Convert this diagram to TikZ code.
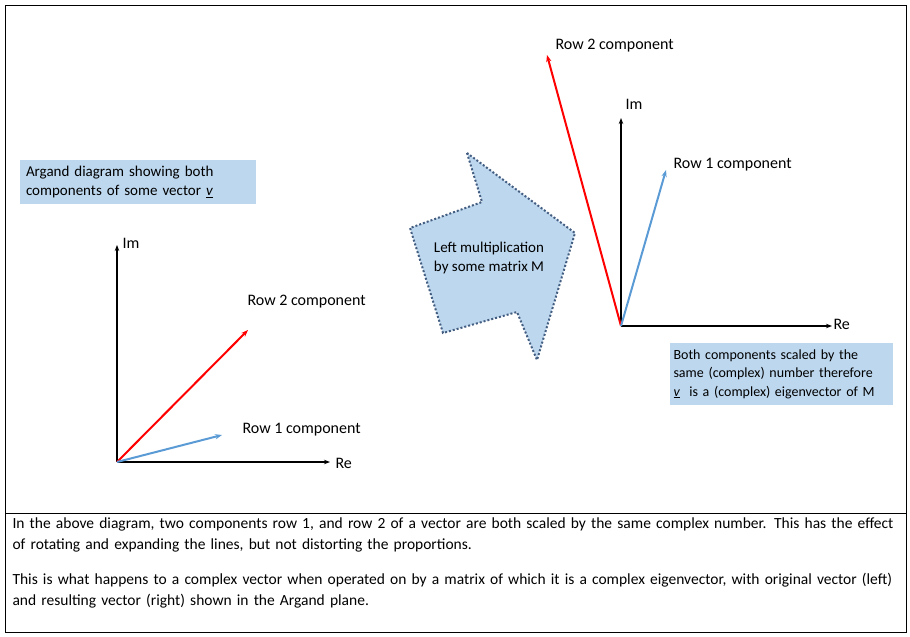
\documentclass[tikz,border=0pt]{standalone}
\usepackage{fontspec}
\setmainfont{Carlito}
\usetikzlibrary{arrows.meta}
\tikzset{>=Stealth}
\definecolor{boxblue}{RGB}{189,215,238}
\definecolor{vecblue}{RGB}{91,155,213}
\definecolor{dotblue}{RGB}{68,94,130}
\tikzset{
  lbl/.style={font=\fontsize{16}{19}\selectfont},
  axis/.style={->, line width=1.3pt, >={Stealth[length=6pt]}},
  vec/.style={->, line width=2pt, >={Stealth[length=7pt]}},
  infobox/.style={fill=boxblue, align=left, inner sep=6pt, font=\fontsize{15}{19}\selectfont}
}
\begin{document}
\begin{tikzpicture}[x=1pt,y=-1pt]
  \useasboundingbox (0,0) rectangle (910,637);
  \draw[line width=0.8pt] (5,5) rectangle (906,632);
  \draw[line width=0.8pt] (5,513) -- (906,513);
  % left Argand diagram
  \coordinate (o1) at (117,462);
  \coordinate (im1) at (117,245);
  \coordinate (re1) at (330,462);
  \coordinate (r2a) at (248,330);
  \coordinate (r1a) at (222,435);
  \draw[axis] (o1) -- (im1);
  \draw[axis] (o1) -- (re1);
  \draw[vec, red] (o1) -- (r2a);
  \draw[vec, vecblue] (o1) -- (r1a);
  \node[lbl, anchor=west] (iml) at (119,243) {Im};
  \node[lbl, anchor=west] (rel) at (332,463) {Re};
  \node[lbl, anchor=west] (r2l) at (244,302) {Row 2 component};
  \node[lbl, anchor=west] (r1l) at (239,430) {Row 1 component};
  \node[infobox, text width=224pt, minimum height=41pt] (info1) at (138,182)
    {Argand diagram showing both\\components of some vector \underline{\textit{v}}};
  % arrow
  \filldraw[fill=boxblue, draw=dotblue, line width=2pt, dotted]
    (467,153) -- (482,202) -- (410,228) -- (443,333) -- (517,312) -- (537,360) -- (575,233) -- cycle;
  \node[align=center, font=\fontsize{15}{19}\selectfont] (mult) at (489,258) {Left multiplication\\by some matrix M};
  % right Argand diagram
  \coordinate (o2) at (621,326);
  \coordinate (im2) at (621,118);
  \coordinate (re2) at (832,326);
  \coordinate (r2b) at (547,55);
  \coordinate (r1b) at (666,170);
  \draw[axis] (o2) -- (im2);
  \draw[axis] (o2) -- (re2);
  \draw[vec, red] (o2) -- (r2b);
  \draw[vec, vecblue] (o2) -- (r1b);
  \node[lbl, anchor=west] (im2l) at (622,104) {Im};
  \node[lbl, anchor=west] (re2l) at (830,324) {Re};
  \node[lbl, anchor=west] (r2l2) at (552,46) {Row 2 component};
  \node[lbl, anchor=west] (r1l2) at (670,165) {Row 1 component};
  \node[infobox, text width=215pt, inner sep=4pt, minimum height=62pt,
        font=\fontsize{14}{18.5}\selectfont] (info2) at (781,374)
    {Both components scaled by the\\same (complex) number therefore\\\underline{\textit{v}}\ \ is a (complex) eigenvector of M};
  % caption
  \node[anchor=north west, align=left, text width=900pt, font=\fontsize{15.5}{21}\selectfont] (cap) at (9,514)
    {In the above diagram, two components row 1, and row 2 of a vector are both scaled by the same complex number. This has the effect\\of rotating and expanding the lines, but not distorting the proportions.\\[14pt]
    This is what happens to a complex vector when operated on by a matrix of which it is a complex eigenvector, with original vector (left)\\and resulting vector (right) shown in the Argand plane.};
\end{tikzpicture}
\end{document}
